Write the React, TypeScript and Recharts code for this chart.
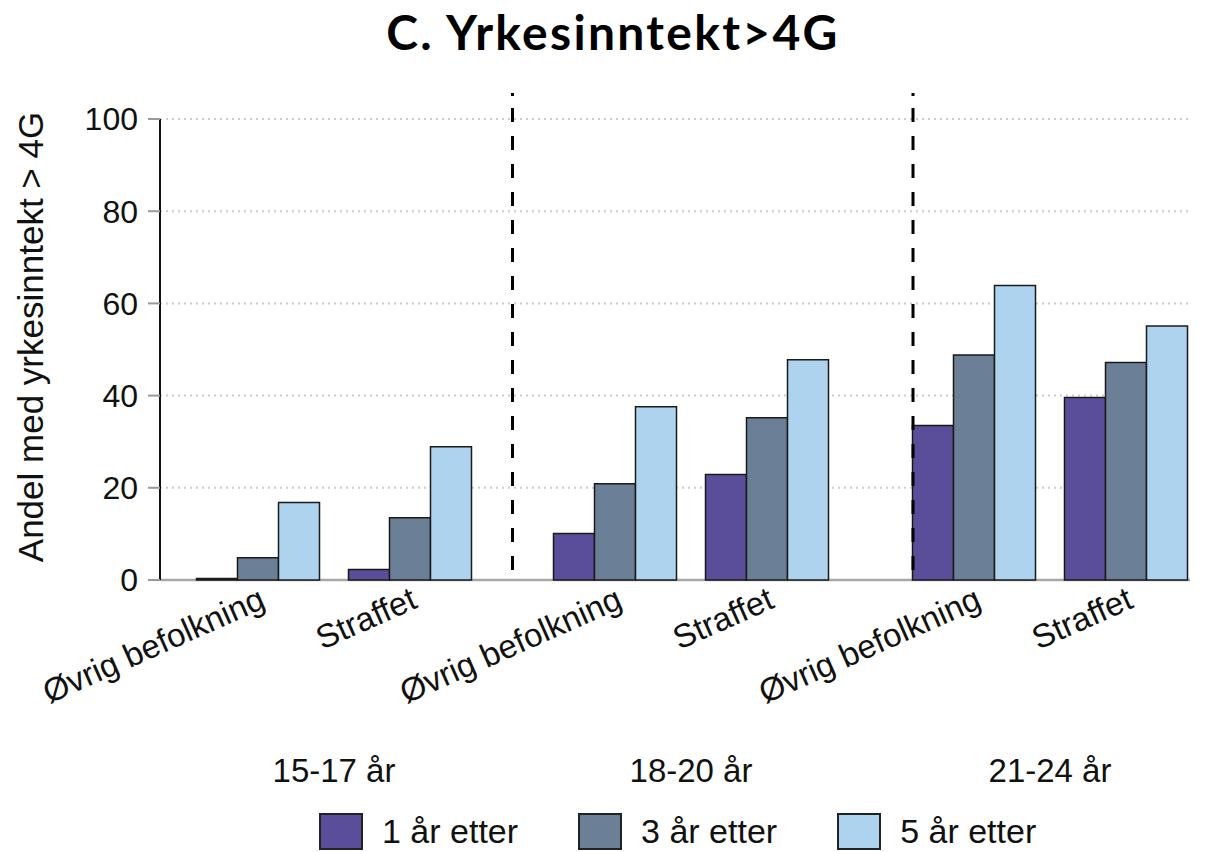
import { Bar, BarChart, CartesianGrid, ReferenceLine, XAxis, YAxis } from 'recharts';

const CATEGORIES = ['Øvrig befolkning', 'Straffet'];
const AGE_GROUPS = ['15-17 år', '18-20 år', '21-24 år'];
const SERIES = ['1 år etter', '3 år etter', '5 år etter'];
// one value per age group x category, in the order 15-17 Øvrig, 15-17 Straffet, 18-20 Øvrig, ...
const ETTER_1 = [0.3, 2.3, 10.1, 22.9, 33.5, 39.6];
const ETTER_3 = [4.8, 13.5, 20.9, 35.2, 48.8, 47.2];
const ETTER_5 = [16.8, 28.9, 37.6, 47.8, 63.9, 55.1];
const Y_TICKS = [0, 20, 40, 60, 80, 100];
const TITLE = 'C. Yrkesinntekt>4G';
const Y_LABEL = 'Andel med yrkesinntekt > 4G';

const COLORS = ['#5a4e9b', '#6b8096', '#aed3ee'];
const FONT = '"Liberation Sans", Arial, sans-serif';
const W = 1210;
const H = 800;
const TOP = 119;
const X_AXIS_H = 220;
// plot edges of each age-group panel (page px)
const PANEL_EDGES = [
  [182, 486],
  [539, 843],
  [898, 1202],
];

const rowsFor = (g: number) =>
  CATEGORIES.map((name, c) => {
    const i = g * CATEGORIES.length + c;
    return { name, e1: ETTER_1[i], e3: ETTER_3[i], e5: ETTER_5[i] };
  });

const ALL_ROWS = AGE_GROUPS.flatMap((_, g) => rowsFor(g));

function CategoryTick({ x, y, payload }: { x?: number; y?: number; payload?: { value: string } }) {
  const tx = (x ?? 0) + 9;
  const ty = (y ?? 0) + 27;
  return (
    <text x={tx} y={ty} textAnchor="end" fontSize={33} fill="#111" fontFamily={FONT} transform={`rotate(-24 ${tx} ${ty})`}>
      {payload?.value}
    </text>
  );
}

function YLabel() {
  const x = 43;
  const y = 337;
  return (
    <text x={x} y={y} textAnchor="middle" fontSize={35} fill="#111" fontFamily={FONT} transform={`rotate(-90 ${x} ${y})`}>
      {Y_LABEL}
    </text>
  );
}

function Background() {
  return (
    <div style={{ position: 'absolute', left: 0, top: 0 }}>
      <BarChart width={W} height={H} data={ALL_ROWS} margin={{ top: TOP, right: 20, left: 0, bottom: X_AXIS_H }}>
        <CartesianGrid vertical={false} stroke="#cccccc" strokeWidth={2} strokeDasharray="2 4" />
        <XAxis dataKey="name" hide />
        <YAxis
          type="number"
          domain={[0, 100]}
          ticks={Y_TICKS}
          width={160}
          tickSize={12}
          tickMargin={10}
          axisLine={{ stroke: '#111', strokeWidth: 2 }}
          tickLine={{ stroke: '#999', strokeWidth: 2 }}
          tick={{ fontSize: 32, fill: '#111', fontFamily: FONT }}
          label={{ content: <YLabel /> }}
        />
        {/* invisible series so the value axis gets its scale */}
        <Bar dataKey="e5" fill="none" stroke="none" legendType="none" isAnimationActive={false} />
        <ReferenceLine y={0} stroke="#a8a8a8" strokeWidth={2.5} />
      </BarChart>
    </div>
  );
}

function Panel({ g }: { g: number }) {
  const [l, r] = PANEL_EDGES[g];
  return (
    <div style={{ position: 'absolute', left: 0, top: 0 }}>
      <BarChart
        width={W}
        height={H}
        data={rowsFor(g)}
        margin={{ top: TOP, right: W - r, left: l, bottom: 0 }}
        barCategoryGap={14.5}
        barGap={0}
      >
        <XAxis
          dataKey="name"
          height={X_AXIS_H}
          axisLine={false}
          tickLine={false}
          tickSize={0}
          tickMargin={0}
          interval={0}
          tick={<CategoryTick />}
          label={{ value: AGE_GROUPS[g], position: 'insideBottom', offset: 18, fontSize: 33, fill: '#111', fontFamily: FONT }}
        />
        <YAxis hide domain={[0, 100]} />
        {['e1', 'e3', 'e5'].map((k, i) => (
          <Bar key={k} dataKey={k} name={SERIES[i]} fill={COLORS[i]} stroke="#1a1a1a" strokeWidth={1.5} isAnimationActive={false} />
        ))}
      </BarChart>
    </div>
  );
}

function Overlay() {
  return (
    <svg width={W} height={852} style={{ position: 'absolute', left: 0, top: 0, pointerEvents: 'none' }}>
      <text
        x={613}
        y={50}
        textAnchor="middle"
        fontSize={48}
        fontWeight={700}
        letterSpacing={2.3}
        fontFamily="Lato, 'DejaVu Sans', sans-serif"
        fill="#000"
      >
        {TITLE}
      </text>
      {[512.5, 913].map((x) => (
        <line key={x} x1={x} x2={x} y1={108} y2={580} stroke="#000" strokeWidth={3} strokeDasharray="14 14" />
      ))}
      {[512.5, 913].map((x) => (
        <line key={`d${x}`} x1={x} x2={x} y1={93} y2={96} stroke="#000" strokeWidth={3} />
      ))}
    </svg>
  );
}

function LegendRow() {
  return (
    <div style={{ position: 'absolute', left: 319, top: 813, display: 'flex', alignItems: 'center', gap: 60, fontFamily: FONT }}>
      {SERIES.map((s, i) => (
        <div key={s} style={{ display: 'flex', alignItems: 'center' }}>
          <span
            style={{
              width: 44,
              height: 37,
              boxSizing: 'border-box',
              border: '2px solid #222',
              background: COLORS[i],
              marginRight: 19,
              display: 'inline-block',
            }}
          />
          <span style={{ fontSize: 34, color: '#111', lineHeight: '37px' }}>{s}</span>
        </div>
      ))}
    </div>
  );
}

export default function App() {
  return (
    <div style={{ position: 'absolute', left: 0, top: 0, width: W, height: 852, background: '#fff', overflow: 'hidden' }}>
      <Background />
      {AGE_GROUPS.map((_, g) => (
        <Panel key={g} g={g} />
      ))}
      <Overlay />
      <LegendRow />
    </div>
  );
}
